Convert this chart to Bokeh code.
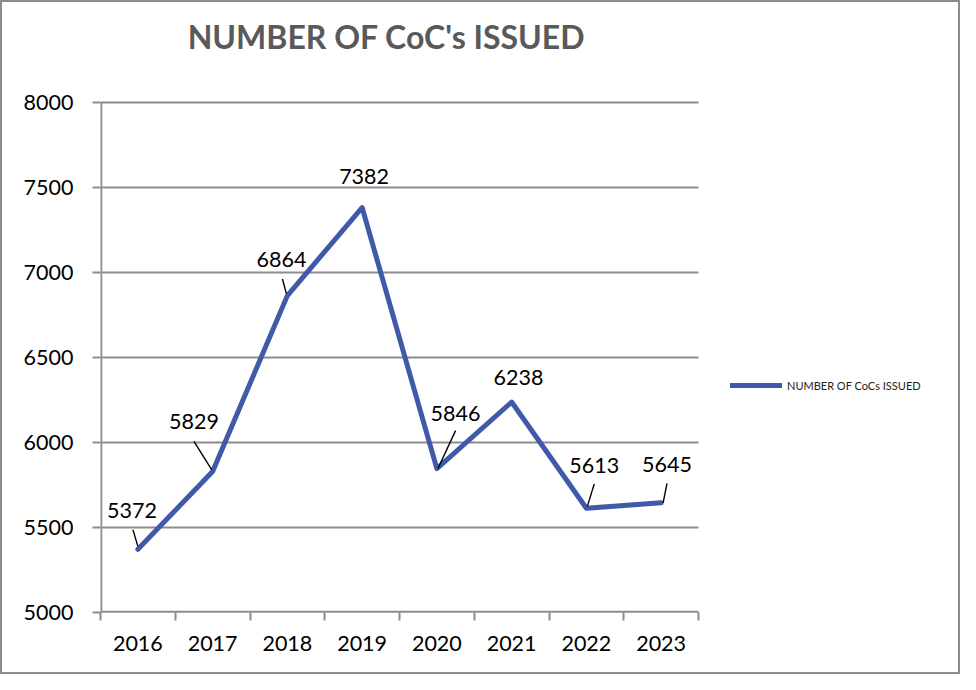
from bokeh.plotting import figure
from bokeh.models import FixedTicker, Range1d, Legend, LegendItem, ColumnDataSource, Label
from bokeh.core.properties import value
from bokeh.embed import file_html
from bokeh.resources import INLINE

# ---- data ----
years = [2016, 2017, 2018, 2019, 2020, 2021, 2022, 2023]
coc_issued = [5372, 5829, 6864, 7382, 5846, 6238, 5613, 5645]
y_ticks = [5000, 5500, 6000, 6500, 7000, 7500, 8000]
series_name = "NUMBER OF CoCs ISSUED"
title_text = "NUMBER OF CoC's ISSUED"

# ---- style: label offsets (pixels) ----
label_dx = [-6, -19, -6, 2, 19, 7, 8, 6]
label_dy = [-40, -51, -37, -32, -57, -25, -44, -39]
# leader lines: (start dx, start dy, end dx, end dy) in pixels, None = no leader
leaders = [(-5, -20, 0, -3), (-19, -31, -1, -2), (-5, -17, -1, -2), None,
           (19, -39, 1, 0), None, (8, -25, 1, -2), (6, -20, 2, 0)]
SX, SY = 960 / 976, 674 / 690

W, H = 960, 674
ML, MB = 98, 64          # space for axes
PLOT_W, PLOT_H = 598, 510  # pixel size of the charted area (categories x values)
frame_w = W - ML
frame_h = H - MB

x0 = years[0] - 0.5
x_last = years[-1] + 0.5
y0, y_top = y_ticks[0], y_ticks[-1]
px_x = (x_last - x0) / PLOT_W
px_y = (y_top - y0) / PLOT_H

p = figure(width=W, height=H,
           x_range=Range1d(x0, x0 + frame_w * px_x),
           y_range=Range1d(y0, y0 + frame_h * px_y),
           output_backend="svg", toolbar_location=None,
           min_border_left=ML, min_border_right=0, min_border_top=0, min_border_bottom=MB)
p.outline_line_color = None
p.background_fill_color = "white"
p.border_fill_color = "white"
p.styles = {"border": "2px solid #8c8c8c"}

GRAY = "#8c8c8c"
FONT = "Lato"

# x axis: labels at years, tick marks at category boundaries
boundaries = [y - 0.5 for y in years] + [years[-1] + 0.5]
xa = p.xaxis[0]
xa.ticker = FixedTicker(ticks=years, minor_ticks=boundaries)
xa.major_tick_line_color = None
xa.major_tick_out = 0
xa.major_tick_in = 0
xa.minor_tick_line_color = GRAY
xa.minor_tick_line_width = 2
xa.minor_tick_out = 8
xa.minor_tick_in = 0
xa.axis_line_color = None
xa.major_label_text_font = FONT
xa.major_label_text_font_size = "21.5px"
xa.major_label_text_color = "black"
xa.major_label_standoff = 15

ya = p.yaxis[0]
ya.ticker = FixedTicker(ticks=y_ticks, minor_ticks=[])
ya.major_tick_line_color = GRAY
ya.major_tick_line_width = 2
ya.major_tick_out = 8
ya.major_tick_in = 0
ya.minor_tick_line_color = None
ya.axis_line_color = None
ya.major_label_text_font = FONT
ya.major_label_text_font_size = "21.5px"
ya.major_label_text_color = "black"
ya.major_label_standoff = 19

p.xgrid.grid_line_color = None
p.ygrid.grid_line_color = None

# horizontal gridlines across the category area only
p.segment(x0=[x0] * len(y_ticks), y0=y_ticks, x1=[x_last] * len(y_ticks), y1=y_ticks,
          line_color=GRAY, line_width=2)
# axis lines (at the frame edges, so drawn a little wider)
p.segment(x0=[x0, x0], y0=[y0, y0], x1=[x_last, x0], y1=[y0, y_top],
          line_color=GRAY, line_width=3.5)

src = ColumnDataSource(dict(x=years, y=coc_issued, t=[str(v) for v in coc_issued],
                            dx=[d * SX for d in label_dx], dy=[d * SY for d in label_dy]))
r = p.line("x", "y", source=src, line_width=5, line_color="#4159A9",
           line_join="round", line_cap="round")

# leader lines
sx0, sy0, sx1, sy1 = [], [], [], []
for xv, yv, ld in zip(years, coc_issued, leaders):
    if ld is None:
        continue
    a, b, c, d = ld
    sx0.append(xv + a * SX * px_x); sy0.append(yv - b * SY * px_y)
    sx1.append(xv + c * SX * px_x); sy1.append(yv - d * SY * px_y)
p.segment(sx0, sy0, sx1, sy1, line_color="black", line_width=1.4)

p.text("x", "y", text="t", source=src, x_offset="dx", y_offset="dy",
       text_align="center", text_baseline="middle",
       text_font=value(FONT), text_font_size="21.5px", text_color="black")

# title (screen units: from the frame's bottom-left corner)
p.add_layout(Label(x=384 - ML, y=frame_h - 34, x_units="screen", y_units="screen",
                   text=title_text, text_font=FONT, text_font_size="32px",
                   text_font_style="bold", text_color="#595959",
                   text_align="center", text_baseline="middle"))

legend = Legend(items=[LegendItem(label=series_name, renderers=[r])],
                location=(728 - ML, frame_h - 383 - 10), orientation="vertical",
                padding=0, margin=0, spacing=0,
                glyph_width=52, glyph_height=20, label_height=20,
                label_standoff=5, label_text_font=FONT, label_text_font_size="11px",
                label_text_color="#222222",
                border_line_color=None, background_fill_alpha=0)
p.add_layout(legend, "center")

open("out.html", "w").write(file_html(p, INLINE))
